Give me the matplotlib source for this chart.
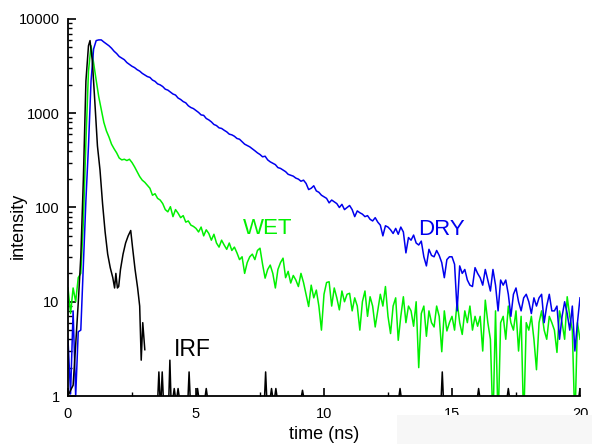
import numpy as np
import matplotlib
matplotlib.use("Agg")
import matplotlib.pyplot as plt
from matplotlib.patches import Rectangle
from matplotlib.ticker import LogLocator, FixedLocator, NullFormatter

plt.rcParams['font.family'] = ['Liberation Sans', 'DejaVu Sans']

# ---------------- data ----------------
# common time grid for the decays (ns), 0.1 ns steps
time = np.round(np.linspace(0.0, 20.0, 201), 2)

dry = [
    4, 1.05, 8, 1.0, 4.8, 5, 25, 120, 450, 2200,
    4800, 5900, 6000, 6000, 5700, 5450, 5200, 4900, 4550, 4300,
    4000, 3850, 3700, 3450, 3300, 3150, 3050, 2900, 2800, 2650,
    2550, 2450, 2400, 2250, 2180, 2050, 2000, 1920, 1800, 1760,
    1680, 1600, 1560, 1450, 1400, 1330, 1290, 1200, 1150, 1120,
    1070, 1020, 960, 950, 880, 850, 810, 760, 740, 700,
    690, 660, 635, 600, 590, 570, 540, 530, 500, 470,
    455, 440, 420, 400, 380, 365, 345, 350, 320, 305,
    295, 285, 265, 260, 250, 240, 225, 220, 215, 205,
    200, 190, 195, 180, 155, 160, 170, 150, 145, 135,
    130, 125, 112, 120, 115, 110, 100, 108, 95, 100,
    105, 95, 80, 92, 88, 85, 80, 82, 75, 72,
    78, 70, 65, 50, 64, 62, 58, 53, 60, 52,
    62, 55, 33, 48, 45, 51, 42, 40, 44, 30,
    24, 36, 31, 30, 35, 31, 26, 18, 28, 30,
    30, 25, 8, 24, 20, 22, 17, 15, 14.5, 23,
    20, 18, 15, 22, 17, 13, 22, 15, 8, 17,
    15, 17, 12, 7, 12, 14, 10, 8, 11, 12,
    10, 7.5, 11, 9, 11, 12, 6, 9, 12, 8,
    8, 9, 4, 7, 10, 7.5, 5, 9, 3, 6,
    11,
]

wet = [
    14, 7.5, 14, 10, 18, 20, 70, 500, 2800, 5200,
    3400, 2250, 1500, 1100, 800, 650, 560, 470, 420, 380,
    335, 320, 325, 315, 325, 300, 270, 240, 213, 195,
    185, 172, 160, 135, 140, 125, 120, 110, 95, 90,
    102, 80, 95, 87, 78, 82, 70, 72, 65, 63,
    60, 55, 62, 50, 58, 53, 45, 52, 42, 38,
    45, 40, 36, 42, 35, 38, 33, 28, 30, 20,
    26, 30, 32, 28, 35, 37, 25, 17.8, 22, 24.5,
    20, 14, 22, 26, 29, 18, 21, 15.8, 19, 17,
    14.5, 20, 16, 12, 8.9, 15, 11, 13.3, 9, 5,
    12, 16, 16.3, 9, 14, 11, 8.2, 13, 10, 12,
    12.3, 8, 11, 9, 5, 10, 13, 7, 11.3, 9,
    5.4, 8, 12, 9, 14.5, 7, 4.6, 9, 11, 3.9,
    7, 11.3, 6, 9, 8, 5.5, 10, 2, 7.5, 9,
    4.3, 8, 6, 5.4, 9, 7, 2.95, 8, 4.9, 6,
    7, 5, 10, 6, 4.5, 8, 6, 9, 5, 7,
    5.5, 7, 3, 10.4, 6, 4, 0.5, 8, 0.5, 6,
    7, 4, 9, 6, 5, 8, 3, 7, 0.5, 6,
    5, 7, 4, 1.9, 6, 8, 5, 4, 7, 6,
    5, 2.9, 8, 6, 4, 11.3, 7, 5, 0.5, 6,
    4,
]

irf_time = [0.0, 0.1, 0.2, 0.3, 0.4, 0.5, 0.6, 0.7, 0.8, 0.86, 0.95,
            1.05, 1.15, 1.25, 1.35, 1.45, 1.55, 1.65, 1.75, 1.82, 1.87,
            1.93, 1.98, 2.05, 2.15, 2.25, 2.35, 2.45, 2.52, 2.62, 2.72,
            2.8, 2.86, 2.92, 3.0]
irf = [1.0, 1.15, 1.3, 3.5, 9.7, 30, 200, 2200, 5200, 5900, 3600,
       1300, 450, 250, 110, 55, 32, 23, 18, 14, 20,
       14, 14.5, 22, 32, 42, 50, 57, 38, 22, 14,
       9, 2.4, 6, 3.1]

# isolated single-count spikes of the IRF tail
irf_spike_time = [3.55, 3.68, 3.98, 4.15, 4.30, 4.73, 5.06, 5.40, 7.72,
                  7.95, 8.12, 9.16, 12.97, 14.62, 16.04, 17.20, 20.0]
irf_spike_val = [1.8, 1.8, 2.4, 1.2, 1.2, 1.8, 1.2, 1.2, 1.8,
                 1.2, 1.2, 1.15, 1.2, 1.8, 1.2, 1.2, 1.2]

x_ticks = [0, 5, 10, 15, 20]
x_ticklabels = ["0", "5", "10", "15", "20"]
y_ticks = [1, 10, 100, 1000, 10000]
y_ticklabels = ["1", "10", "100", "1000", "10000"]

# ---------------- figure ----------------
W, H = 592, 444
fig = plt.figure(figsize=(W / 100, H / 100), dpi=100)
ax = fig.add_axes([68 / W, 1 - 396 / H, (580 - 68) / W, (396 - 19) / H])

GREEN = '#00f000'
BLUE = '#0000ee'
lw = 1.1

ax.plot(time, wet, color=GREEN, lw=lw)
ax.plot(time, dry, color=BLUE, lw=lw)
ax.plot(irf_time, irf, color='black', lw=lw)

# tail spikes of the IRF
sx, sy = [], []
for t, v in zip(irf_spike_time, irf_spike_val):
    sx += [t - 0.04, t, t + 0.04, np.nan]
    sy += [1.0, v, 1.0, np.nan]
ax.plot(sx, sy, color='black', lw=lw)

ax.set_yscale('log')
ax.set_xlim(0, 20)
ax.set_ylim(1, 10000)

ax.spines['top'].set_visible(False)
ax.spines['right'].set_visible(False)
for s in ('left', 'bottom'):
    ax.spines[s].set_linewidth(1.3)

ax.set_xticks(x_ticks)
ax.set_xticklabels(x_ticklabels)
ax.xaxis.set_minor_locator(FixedLocator([2.5, 7.5, 12.5, 17.5]))
ax.set_yticks(y_ticks)
ax.set_yticklabels(y_ticklabels)
ax.yaxis.set_minor_locator(LogLocator(base=10, subs=np.arange(2, 10)))
ax.yaxis.set_minor_formatter(NullFormatter())

ax.tick_params(which='major', direction='in', length=6, width=1.2,
               labelsize=10.5, top=False, right=False)
ax.tick_params(which='minor', direction='in', length=3.2, width=1.0,
               top=False, right=False)
ax.tick_params(axis='x', which='major', pad=8)
ax.tick_params(axis='y', which='major', pad=6)

ax.set_xlabel('time (ns)', fontsize=13)
ax.xaxis.set_label_coords(0.5, -0.079)
ax.set_ylabel('intensity', fontsize=13)
ax.yaxis.set_label_coords(-0.08, 0.45)

ax.text(7.81, 60, 'WET', color=GREEN, fontsize=16, ha='center', va='center')
ax.text(14.6, 59, 'DRY', color=BLUE, fontsize=16, ha='center', va='center')
ax.text(4.84, 3.1, 'IRF', color='black', fontsize=16.5, ha='center', va='center')

# light box in the lower-right corner, as in the reference
fig.add_artist(Rectangle((397 / W, 0), 1 - 397 / W, (444 - 415) / H,
                         transform=fig.transFigure, facecolor='#f7f7f7',
                         edgecolor='none', zorder=10))

fig.savefig('out.png', dpi=100)
